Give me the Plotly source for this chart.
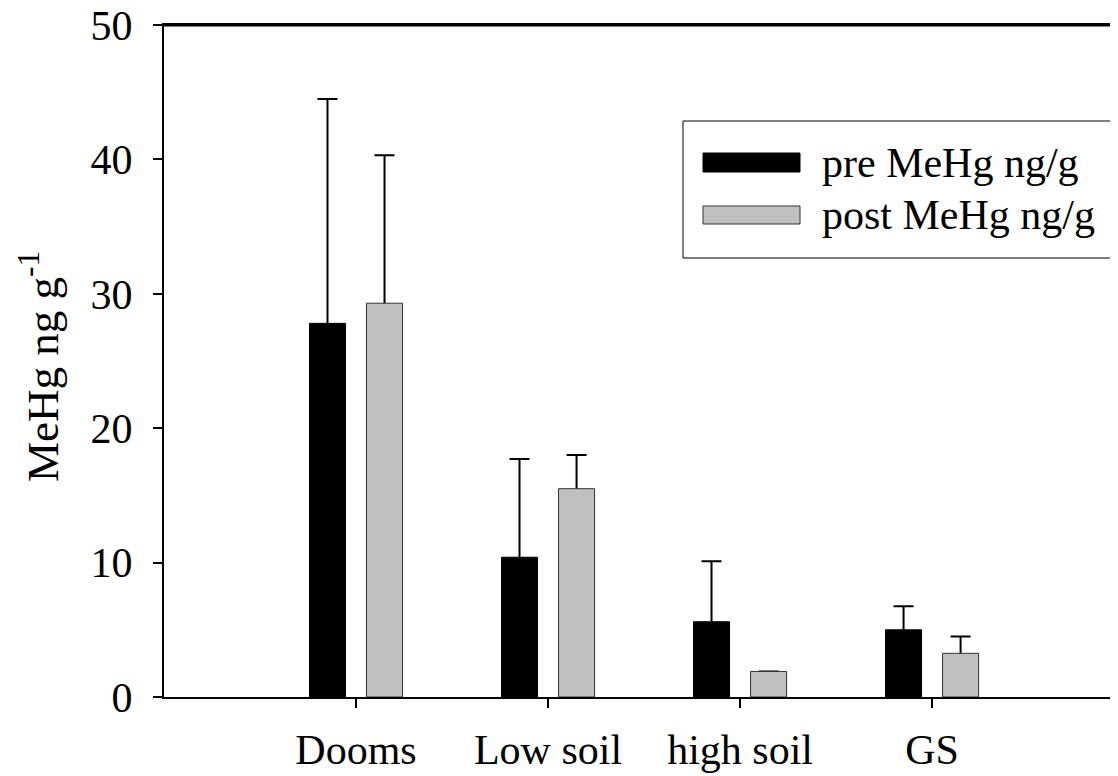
import plotly.graph_objects as go

categories = ["Dooms", "Low soil", "high soil", "GS"]
pre_name = "pre MeHg ng/g"
post_name = "post MeHg ng/g"
y_title = "MeHg ng g<sup>-1</sup>"
pre_vals = [27.8, 10.4, 5.6, 5.0]
pre_err = [16.7, 7.3, 4.5, 1.75]
post_vals = [29.3, 15.5, 1.9, 3.25]
post_err = [11.0, 2.5, None, 1.25]
y_ticks = [0, 10, 20, 30, 40, 50]

FONT = "Liberation Serif, Times New Roman, serif"
FS = 42
xpos = list(range(1, len(categories) + 1))

fig = go.Figure()

def err_trace(vals, err, group):
    return go.Bar(
        x=xpos, y=vals, offsetgroup=group, showlegend=False, hoverinfo="skip",
        marker=dict(color="rgba(0,0,0,0)", line=dict(width=0)),
        error_y=dict(type="data", symmetric=False,
                     array=[e if e is not None else float("nan") for e in err],
                     arrayminus=vals, color="black", thickness=2, width=10),
    )

fig.add_trace(err_trace(pre_vals, pre_err, "pre"))
fig.add_trace(err_trace(post_vals, post_err, "post"))
fig.add_trace(go.Bar(x=xpos, y=pre_vals, name=pre_name, offsetgroup="pre",
                     marker=dict(color="black", line=dict(color="black", width=1)),
                     showlegend=False))
fig.add_trace(go.Bar(x=xpos, y=post_vals, name=post_name, offsetgroup="post",
                     marker=dict(color="#c0c0c0", line=dict(color="#333333", width=1)),
                     showlegend=False))

# custom legend (wide swatches like the original); coordinates in screen px
# (page has an 8px body margin)
L = 164; R = 1126; T = 25; B = 697
def px(x): return (x - L) / (R - L)
def py(y): return (B - y) / (B - T)

shapes = [
    dict(type="line", xref="paper", yref="paper", x0=0, x1=1, y0=py(25.5), y1=py(25.5),
         line=dict(color="black", width=2), layer="above"),
    dict(type="rect", xref="paper", yref="paper", x0=px(683), x1=px(1117), y0=py(258), y1=py(121),
         line=dict(color="black", width=1), fillcolor="white"),
    dict(type="rect", xref="paper", yref="paper", x0=px(703), x1=px(800), y0=py(172), y1=py(153),
         line=dict(color="black", width=1), fillcolor="black"),
    dict(type="rect", xref="paper", yref="paper", x0=px(703), x1=px(800), y0=py(224), y1=py(206),
         line=dict(color="#333333", width=1), fillcolor="#c0c0c0"),
]
annotations = [
    dict(text=pre_name, xref="paper", yref="paper", x=px(820), y=py(163), xanchor="left",
         yanchor="middle", showarrow=False, font=dict(family=FONT, size=FS, color="black")),
    dict(text=post_name, xref="paper", yref="paper", x=px(820), y=py(215), xanchor="left",
         yanchor="middle", showarrow=False, font=dict(family=FONT, size=FS, color="black")),
    dict(text=y_title, xref="paper", yref="paper", x=px(39), y=py(367), xanchor="center",
         yanchor="middle", textangle=-90, showarrow=False,
         font=dict(family=FONT, size=45, color="black")),
]

fig.update_layout(
    width=1118, height=776,
    margin=dict(l=156, r=0, t=17, b=87, autoexpand=False),
    paper_bgcolor="white", plot_bgcolor="white",
    barmode="group", bargap=0.406, bargroupgap=0.368,
    font=dict(family=FONT, size=FS, color="black"),
    shapes=shapes, annotations=annotations,
    showlegend=False,
)
fig.update_xaxes(
    range=[0, 5.01], tickvals=xpos, ticktext=categories,
    showline=True, linecolor="black", linewidth=2, mirror=True,
    ticks="outside", ticklen=9, tickwidth=2, tickcolor="black",
    showgrid=False, zeroline=False, ticklabelstandoff=6,
    tickfont=dict(family=FONT, size=FS, color="black"),
)
fig.update_yaxes(
    range=[0, 50], tickvals=y_ticks,
    showline=True, linecolor="black", linewidth=2, mirror=False,
    ticks="outside", ticklen=9, tickwidth=2, tickcolor="black",
    showgrid=False, zeroline=False, ticklabelstandoff=12,
    ticklabeloverflow="allow",
    tickfont=dict(family=FONT, size=FS, color="black"),
)

fig.write_html("out.html")
